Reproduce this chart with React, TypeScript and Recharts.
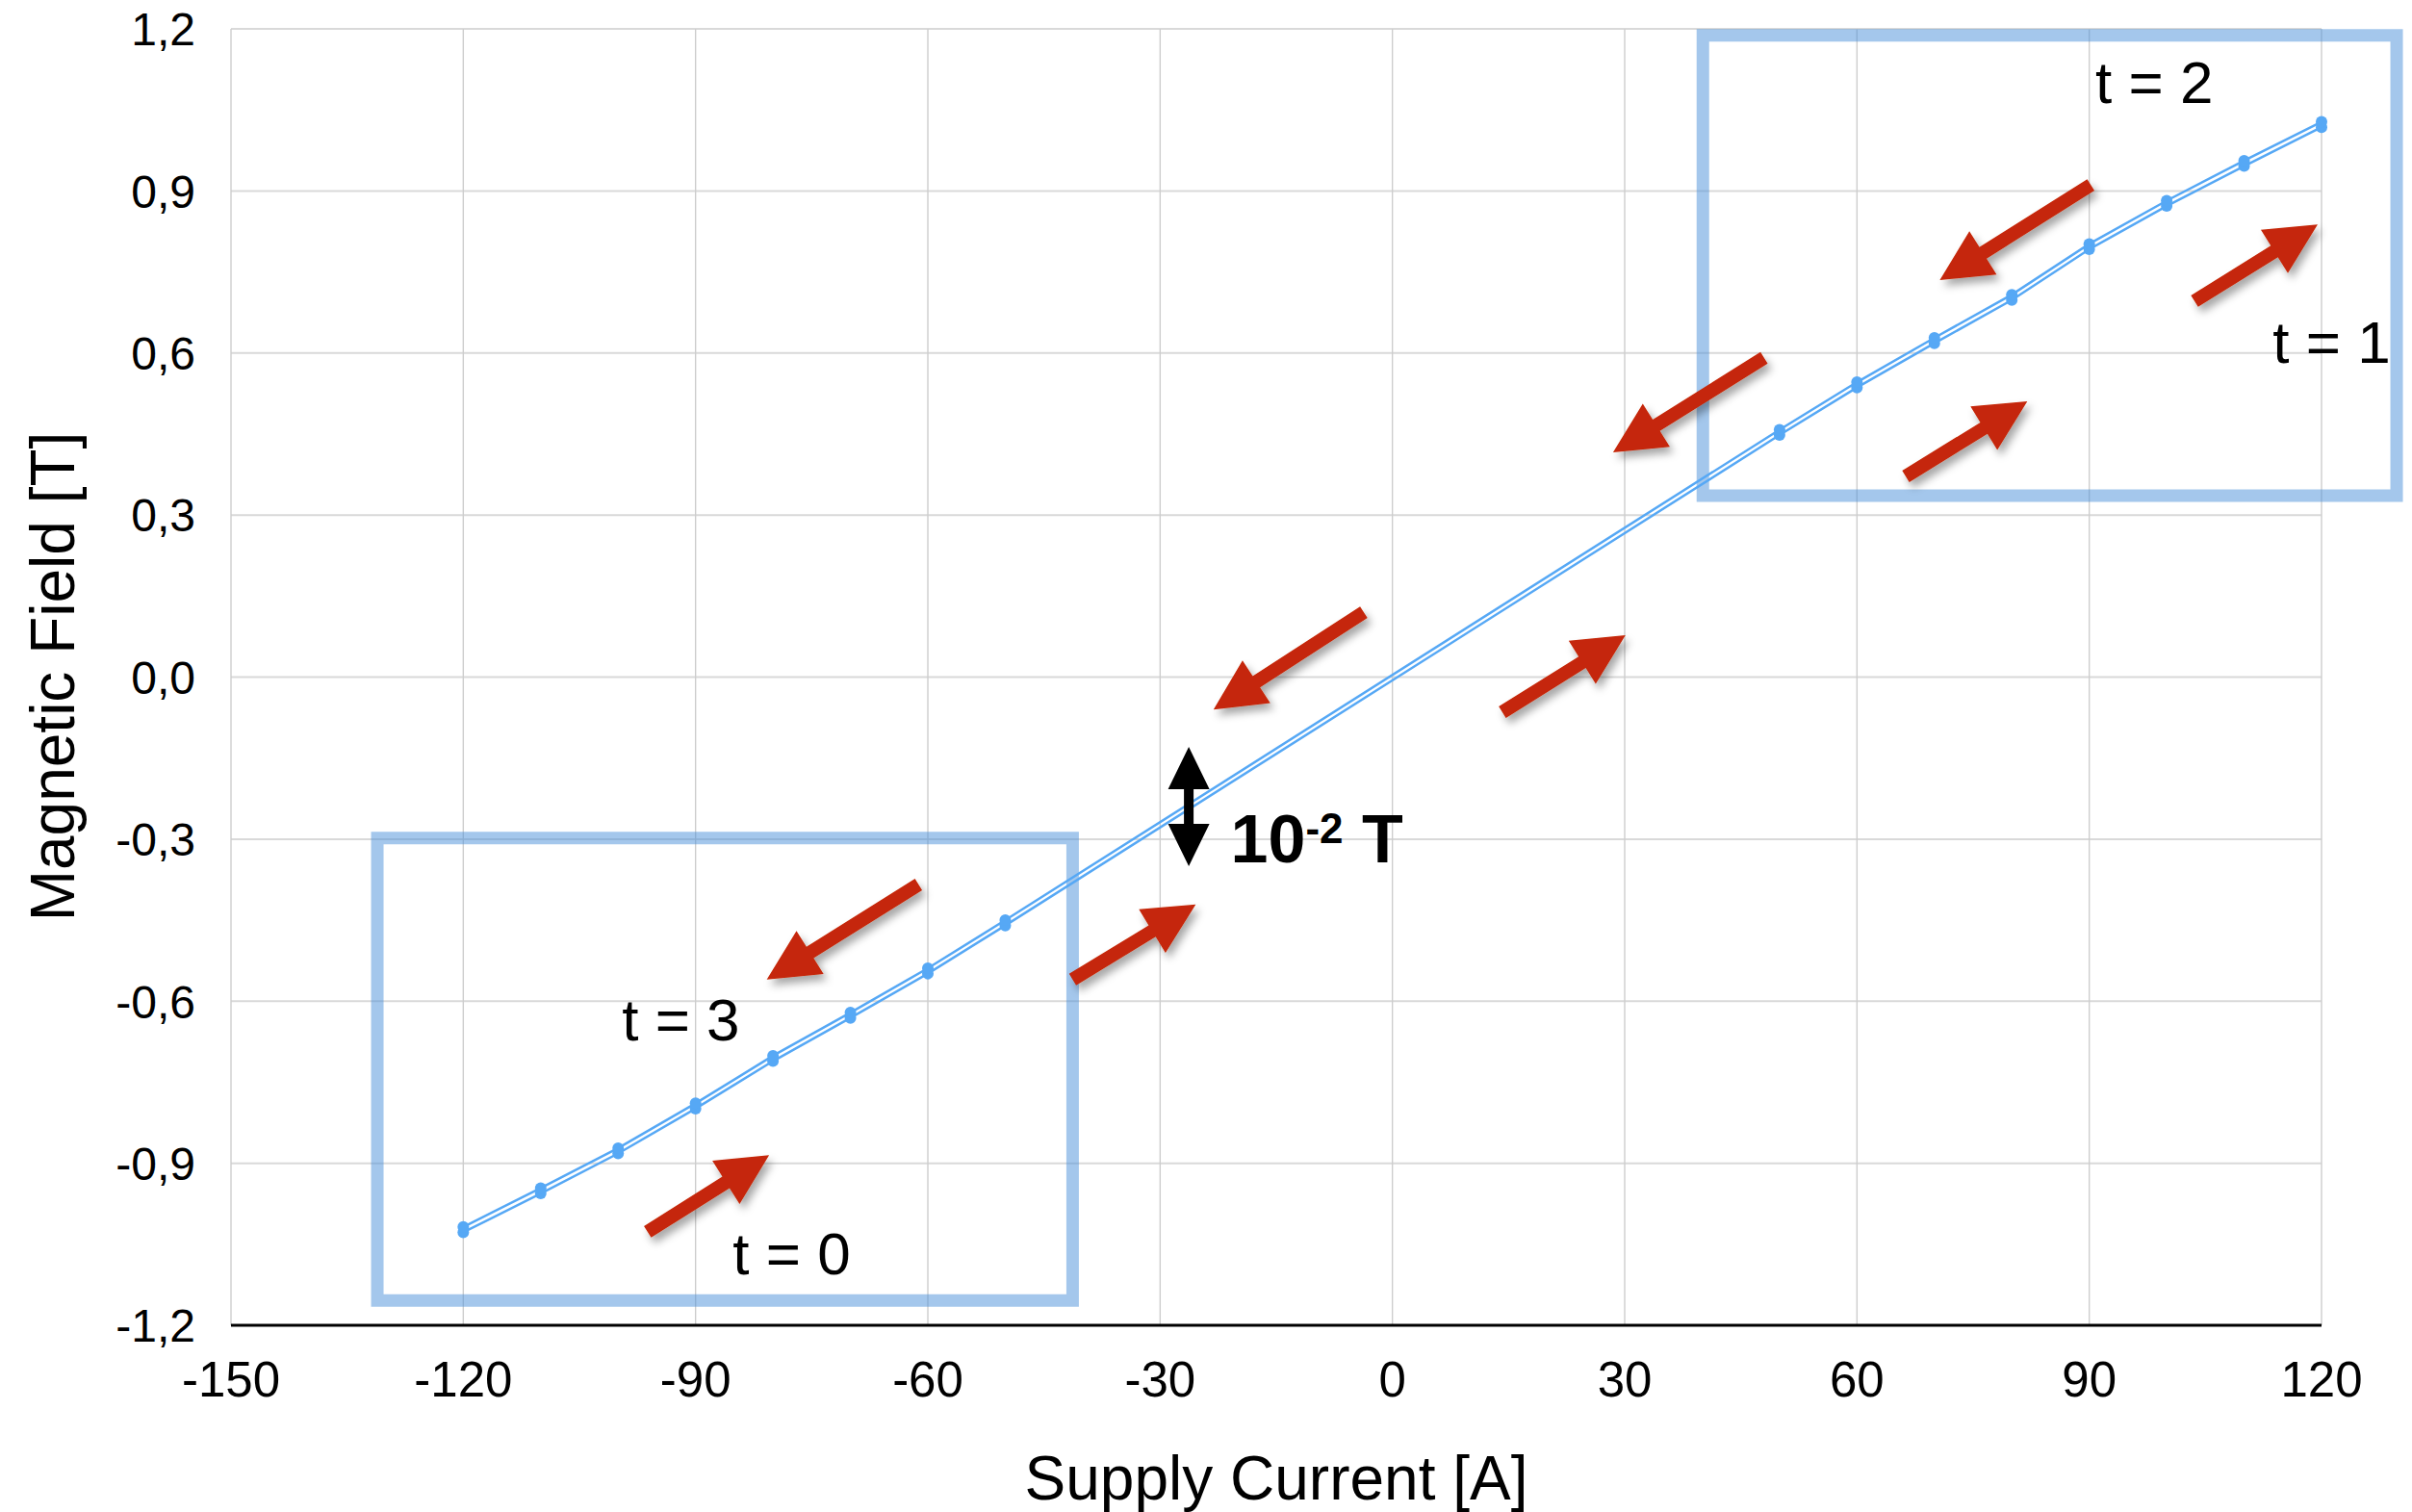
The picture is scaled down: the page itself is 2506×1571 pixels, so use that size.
import React from 'react';
import {
  LineChart,
  Line,
  XAxis,
  YAxis,
  CartesianGrid,
  ReferenceArea,
  ReferenceLine,
  ReferenceDot,
} from 'recharts';

// ---------- data ----------
const currents = [-120, -110, -100, -90, -80, -70, -60, -50, 50, 60, 70, 80, 90, 100, 110, 120];
const fieldUp = [-1.028, -0.956, -0.882, -0.799, -0.711, -0.631, -0.549, -0.46, 0.448, 0.536, 0.618, 0.698, 0.792, 0.872, 0.946, 1.018];
const fieldDown = [-1.018, -0.946, -0.872, -0.789, -0.701, -0.621, -0.539, -0.45, 0.458, 0.546, 0.628, 0.708, 0.802, 0.882, 0.956, 1.028];

const xTicks = [-150, -120, -90, -60, -30, 0, 30, 60, 90, 120];
const yTicks = [-1.2, -0.9, -0.6, -0.3, 0, 0.3, 0.6, 0.9, 1.2];

// annotation arrows (data coordinates): tail -> tip
const upArrows = [
  { x1: -96.2, y1: -1.027, x2: -80.5, y2: -0.885 },
  { x1: -41.3, y1: -0.56, x2: -25.4, y2: -0.421 },
  { x1: 14.2, y1: -0.065, x2: 30.1, y2: 0.0775 },
  { x1: 66.3, y1: 0.3715, x2: 82.0, y2: 0.5105 },
  { x1: 103.6, y1: 0.696, x2: 119.5, y2: 0.838 },
];
const downArrows = [
  { x1: 90.2, y1: 0.911, x2: 70.7, y2: 0.735 },
  { x1: 48.0, y1: 0.591, x2: 28.5, y2: 0.416 },
  { x1: -3.7, y1: 0.12, x2: -23.1, y2: -0.06 },
  { x1: -61.2, y1: -0.384, x2: -80.8, y2: -0.56 },
];
const timeLabels = [
  { x: 90.8, y: 1.063, text: 't = 2' },
  { x: 113.7, y: 0.582, text: 't = 1' },
  { x: -99.5, y: -0.673, text: 't = 3' },
  { x: -85.2, y: -1.106, text: 't = 0' },
];
const boxes = [
  { x1: -131.1, x2: -41.3, y1: -1.154, y2: -0.298 },
  { x1: 40.1, x2: 129.7, y1: 0.336, y2: 1.188 },
];
const gapArrow = { x: -26.3, y1: -0.129, y2: -0.35 };
const gapLabel = { x: -20.9, y: -0.343 };

const data = currents.map((c, i) => ({ current: c, up: fieldUp[i], down: fieldDown[i] }));

const FONT = '"Liberation Sans", Arial, Helvetica, sans-serif';
const LINE_COLOR = '#56a8f5';
const ARROW_RED = '#c52507';

// ---------- shapes ----------
function arrowPoints(x1: number, y1: number, x2: number, y2: number, w: number, hl: number, hw: number) {
  const dx = x2 - x1;
  const dy = y2 - y1;
  const L = Math.hypot(dx, dy) || 1;
  const ux = dx / L;
  const uy = dy / L;
  const px = -uy;
  const py = ux;
  const bx = x2 - ux * hl;
  const by = y2 - uy * hl;
  const pts = [
    [x1 + (px * w) / 2, y1 + (py * w) / 2],
    [bx + (px * w) / 2, by + (py * w) / 2],
    [bx + (px * hw) / 2, by + (py * hw) / 2],
    [x2, y2],
    [bx - (px * hw) / 2, by - (py * hw) / 2],
    [bx - (px * w) / 2, by - (py * w) / 2],
    [x1 - (px * w) / 2, y1 - (py * w) / 2],
  ];
  return pts.map((p) => `${p[0]},${p[1]}`).join(' ');
}

const RedArrow = (props: any) => {
  const { x1, y1, x2, y2 } = props;
  if ([x1, y1, x2, y2].some((v) => typeof v !== 'number' || isNaN(v))) return <g />;
  return (
    <polygon
      points={arrowPoints(x1, y1, x2, y2, 14, 53, 53)}
      fill={ARROW_RED}
      filter="url(#arrowShadow)"
    />
  );
};

const DoubleArrow = (props: any) => {
  const { x1, y1, x2, y2 } = props;
  if ([x1, y1, x2, y2].some((v) => typeof v !== 'number' || isNaN(v))) return <g />;
  const x = x1;
  const top = Math.min(y1, y2);
  const bot = Math.max(y1, y2);
  const hl = 44;
  const hw = 43;
  const w = 10;
  const pts = [
    [x, top],
    [x + hw / 2, top + hl],
    [x + w / 2, top + hl],
    [x + w / 2, bot - hl],
    [x + hw / 2, bot - hl],
    [x, bot],
    [x - hw / 2, bot - hl],
    [x - w / 2, bot - hl],
    [x - w / 2, top + hl],
    [x - hw / 2, top + hl],
  ];
  return <polygon points={pts.map((p) => `${p[0]},${p[1]}`).join(' ')} fill="#000" />;
};

const XTick = (props: any) => {
  const { x, y, payload } = props;
  return (
    <text x={x} y={y + 74} textAnchor="middle" fontSize={51} fontFamily={FONT} fill="#000">
      {payload.value}
    </text>
  );
};

const YTick = (props: any) => {
  const { x, y, payload } = props;
  const v = Number(payload.value);
  const label = (Math.abs(v) < 1e-9 ? 0 : v).toFixed(1).replace('.', ',');
  return (
    <text x={x - 37} y={y} dy="0.36em" textAnchor="end" fontSize={48} fontFamily={FONT} fill="#000">
      {label}
    </text>
  );
};

export default function App() {
  return (
    <div style={{ position: 'absolute', left: 0, top: 0, width: 2506, height: 1571, background: '#fff' }}>
      <LineChart
        width={2506}
        height={1571}
        data={data}
        margin={{ top: 30, right: 94, bottom: 0, left: 0 }}
      >
        <defs>
          <filter id="arrowShadow" x="-30%" y="-30%" width="160%" height="160%">
            <feDropShadow dx="4" dy="6" stdDeviation="4" floodColor="#000" floodOpacity="0.35" />
          </filter>
        </defs>
        <CartesianGrid horizontal={true} vertical={false} stroke="#d9d9d9" strokeWidth={2} />
        <CartesianGrid horizontal={false} vertical={true} stroke="#cdcdcd" strokeWidth={1.4} />
        <XAxis
          dataKey="current"
          type="number"
          domain={[-150, 120]}
          ticks={xTicks}
          interval={0}
          height={194}
          tickLine={false}
          tickSize={0}
          tickMargin={0}
          axisLine={{ stroke: '#000', strokeWidth: 3 }}
          tick={<XTick />}
        />
        <YAxis
          type="number"
          domain={[-1.2, 1.2]}
          ticks={yTicks}
          interval={0}
          width={240}
          tickLine={false}
          tickSize={0}
          tickMargin={0}
          axisLine={false}
          tick={<YTick />}
        />
        <Line
          dataKey="up"
          type="linear"
          stroke={LINE_COLOR}
          strokeWidth={2.5}
          dot={{ r: 6, fill: LINE_COLOR, stroke: 'none' }}
          activeDot={false}
          isAnimationActive={false}
        />
        <Line
          dataKey="down"
          type="linear"
          stroke={LINE_COLOR}
          strokeWidth={2.5}
          dot={{ r: 6, fill: LINE_COLOR, stroke: 'none' }}
          activeDot={false}
          isAnimationActive={false}
        />
        {upArrows.concat(downArrows).map((a, i) => (
          <ReferenceLine
            key={`arrow-${i}`}
            segment={[
              { x: a.x1, y: a.y1 },
              { x: a.x2, y: a.y2 },
            ]}
            ifOverflow="visible"
            shape={RedArrow}
          />
        ))}
        <ReferenceLine
          segment={[
            { x: gapArrow.x, y: gapArrow.y1 },
            { x: gapArrow.x, y: gapArrow.y2 },
          ]}
          ifOverflow="visible"
          shape={DoubleArrow}
        />
        <ReferenceDot
          x={gapLabel.x}
          y={gapLabel.y}
          r={0}
          ifOverflow="visible"
          shape={(p: any) => (
            <text x={p.cx} y={p.cy} fontFamily={FONT} fontWeight="bold" fontSize={70} fill="#000">
              10
              <tspan fontSize={44} dy={-20}>-2</tspan>
              <tspan dy={20}> T</tspan>
            </text>
          )}
        />
        {timeLabels.map((t, i) => (
          <ReferenceDot
            key={`t-${i}`}
            x={t.x}
            y={t.y}
            r={0}
            ifOverflow="visible"
            shape={(p: any) => (
              <text x={p.cx} y={p.cy} fontFamily={FONT} fontSize={62} fill="#000">
                {t.text}
              </text>
            )}
          />
        ))}
        {boxes.map((b, i) => (
          <ReferenceArea
            key={`box-${i}`}
            x1={b.x1}
            x2={b.x2}
            y1={b.y1}
            y2={b.y2}
            ifOverflow="visible"
            fill="none"
            fillOpacity={0}
            stroke="#4a90d9"
            strokeOpacity={0.5}
            strokeWidth={13}
          />
        ))}
        <text x={1326} y={1558} textAnchor="middle" fontFamily={FONT} fontSize={64} fill="#000">
          Supply Current [A]
        </text>
        <text
          x={77}
          y={703}
          transform="rotate(-90 77 703)"
          textAnchor="middle"
          fontFamily={FONT}
          fontSize={64}
          fill="#000"
        >
          Magnetic Field [T]
        </text>
      </LineChart>
    </div>
  );
}
